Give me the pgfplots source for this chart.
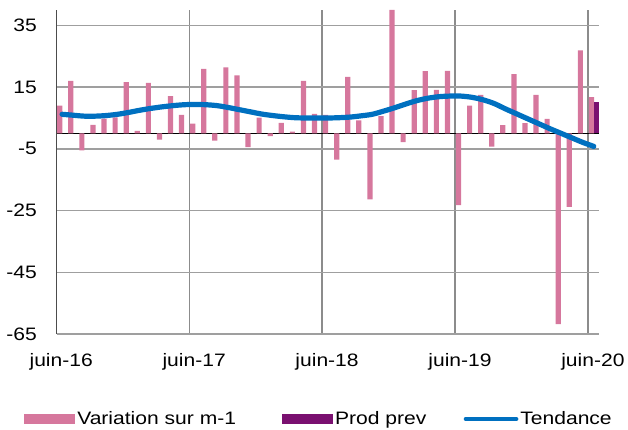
\documentclass[border=0pt]{standalone}
\usepackage{fontspec}
\setmainfont{Liberation Sans}[FakeStretch=1.17]
\usepackage{pgfplots}
\pgfplotsset{compat=1.18}
\definecolor{varpink}{RGB}{214,119,157}
\definecolor{prodpurple}{RGB}{122,16,112}
\definecolor{trendblue}{RGB}{0,112,192}
\newcommand{\chartfont}{\fontsize{13.5}{16}\selectfont}

\begin{document}
\begin{tikzpicture}
% canvas: 628 x 429 px, 1 px = 0.75 pt, axis lower left at (0,0)
\useasboundingbox (-42.4pt,-71.25pt) rectangle (428.6pt,250.5pt);
\begin{axis}[
    scale only axis,
    width=407.1pt, height=243pt,
    xmin=0, xmax=49, ymin=-65, ymax=40,
    axis x line*=bottom, axis y line*=left,
    x axis line style={-, draw=gray!75, line width=1.1pt},
    y axis line style={-, draw=black!70, line width=1.1pt},
    xtick={0,12,24,36,48},
    xticklabels={juin-16,juin-17,juin-18,juin-19,juin-20},
    ytick={-65,-45,-25,-5,15,35},
    major tick length=0pt,
    xmajorgrids, ymajorgrids,
    x grid style={draw=gray!90, line width=1.4pt},
    y grid style={draw=gray!75, line width=1.1pt},
    extra y ticks={0},
    extra y tick labels={},
    extra y tick style={y grid style={draw=black, line width=1.1pt}},
    tick label style={font=\chartfont},
    /pgf/number format/assume math mode=true,
    yticklabel style={anchor=east, inner sep=0pt, xshift=-14.6pt},
    xticklabel style={anchor=base, inner sep=0pt, yshift=-24.5pt, xshift=3.5pt},
    legend columns=3,
    legend style={at={(-0.0599,-0.2623)}, anchor=west, draw=none, fill=none,
        inner sep=0pt, font=\chartfont, nodes={inner sep=1.5pt},
        /tikz/column 2/.style={column sep=33pt},
        /tikz/column 4/.style={column sep=26.5pt}},
    legend cell align=left,
]
\addplot[ybar, bar width=3.9pt, bar shift=2.4pt, fill=varpink, draw=none,
    legend image code/.code={\fill[varpink] (0pt,-3.75pt) rectangle (38.25pt,3.75pt);}]
coordinates {
(0,9.0) (1,17.0) (2,-5.5) (3,2.8) (4,4.8) (5,5.2) (6,16.6) (7,0.8)
(8,16.4) (9,-2.0) (10,12.1) (11,6.0) (12,3.2) (13,20.9) (14,-2.3) (15,21.4)
(16,18.8) (17,-4.4) (18,5.1) (19,-0.9) (20,3.4) (21,0.6) (22,17.0) (23,6.3)
(24,6.0) (25,-8.5) (26,18.3) (27,4.2) (28,-21.4) (29,5.6) (30,40.0) (31,-2.8)
(32,14.0) (33,20.2) (34,14.1) (35,20.3) (36,-23.2) (37,9.0) (38,12.5) (39,-4.3)
(40,2.7) (41,19.2) (42,3.3) (43,12.5) (44,4.7) (45,-61.8) (46,-23.8) (47,26.9)
(48,11.8)
};
\addlegendentry{Variation sur m-1}
\addplot[ybar, bar width=3.9pt, bar shift=6.25pt, fill=prodpurple, draw=none,
    legend image code/.code={\fill[prodpurple] (0pt,-3.75pt) rectangle (38.25pt,3.75pt);}]
coordinates {(48,10.3)};
\addlegendentry{Prod prev}
\addplot[trendblue, line width=3.9pt, smooth, line cap=round, mark=none,
    legend image code/.code={\draw[trendblue, line width=3pt, line cap=round] (2pt,0pt) -- (40pt,0pt);}]
coordinates {
(0.5,6.2) (1.5,5.9) (2.5,5.6) (3.5,5.6) (4.5,5.8) (5.5,6.2) (6.5,6.8) (7.5,7.5)
(8.5,8.1) (9.5,8.6) (10.5,9.0) (11.5,9.3) (12.5,9.4) (13.5,9.3) (14.5,9.0) (15.5,8.4)
(16.5,7.7) (17.5,7.0) (18.5,6.3) (19.5,5.8) (20.5,5.4) (21.5,5.1) (22.5,5.0) (23.5,5.0)
(24.5,5.0) (25.5,5.1) (26.5,5.3) (27.5,5.7) (28.5,6.2) (29.5,7.2) (30.5,8.3) (31.5,9.5)
(32.5,10.6) (33.5,11.4) (34.5,11.9) (35.5,12.1) (36.5,12.1) (37.5,11.7) (38.5,10.9) (39.5,9.7)
(40.5,8.0) (41.5,6.4) (42.5,4.8) (43.5,3.2) (44.5,1.6) (45.5,0.1) (46.5,-1.4) (47.5,-2.9)
(48.5,-4.2)
};
\addlegendentry{Tendance}
\end{axis}
\end{tikzpicture}
\end{document}
